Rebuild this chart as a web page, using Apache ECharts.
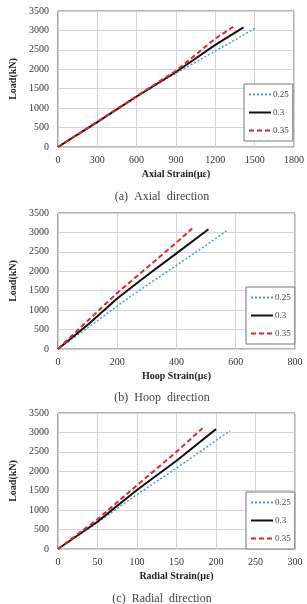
<!DOCTYPE html>
<html>
<head>
<meta charset="utf-8">
<script src="https://cdn.jsdelivr.net/npm/echarts@6/dist/echarts.min.js"></script>
<style>
  html, body { margin: 0; padding: 0; background: #fff; }
  #chart { width: 307px; height: 604px; }
</style>
</head>
<body>
<div id="chart"></div>
<script>
// 系列名称
const seriesNames = ["0.25", "0.3", "0.35"];
const captions = ["(a)  Axial  direction", "(b)  Hoop  direction", "(c)  Radial  direction"];
const xNames = ["Axial Strain(με)", "Hoop Strain(με)", "Radial Strain(με)"];
const xMax = [1800, 800, 300];
const xStep = [300, 200, 50];

// (a) 轴向应变
const axial25 = [[0, 0], [300, 640], [600, 1290], [900, 1900], [1200, 2470], [1500, 3050]];
const axial30 = [[0, 0], [300, 640], [600, 1300], [900, 1930], [1200, 2630], [1415, 3080]];
const axial35 = [[0, 0], [300, 650], [600, 1310], [900, 1960], [1200, 2790], [1340, 3100]];

// (b) 环向应变
const hoop25 = [[0, 0], [100, 540], [200, 1110], [300, 1640], [400, 2150], [500, 2670], [571, 3050]];
const hoop30 = [[0, 0], [100, 620], [200, 1300], [300, 1890], [400, 2460], [508, 3080]];
const hoop35 = [[0, 0], [100, 720], [200, 1440], [300, 2090], [400, 2740], [453, 3100]];

// (c) 径向应变
const radial25 = [[0, 0], [50, 680], [100, 1400], [150, 2080], [218, 3045]];
const radial30 = [[0, 0], [50, 700], [100, 1520], [150, 2270], [200, 3085]];
const radial35 = [[0, 0], [50, 760], [100, 1640], [150, 2500], [183, 3110]];

const panels = [
  [axial25, axial30, axial35],
  [hoop25, hoop30, hoop35],
  [radial25, radial30, radial35],
];

const font = "Liberation Serif";
const grids = [
  { left: 52, top: 11, width: 243, height: 136 },
  { left: 53, top: 213, width: 242, height: 136 },
  { left: 53, top: 413, width: 242, height: 136 },
];
const styles = [
  { color: "#4a9ad4", type: [2, 2], width: 1.5 },
  { color: "#111111", type: "solid", width: 2 },
  { color: "#e3232a", type: [5, 3], width: 2 },
];

const chart = echarts.init(document.getElementById("chart"));

const option = {
  animation: false,
  textStyle: { fontFamily: font },
  title: captions.map((t, i) => ({
    text: t,
    left: 157,
    textAlign: "center",
    top: [186, 387, 588][i],
    textStyle: { fontFamily: font, fontSize: 12, fontWeight: "normal", color: "#444" },
  })),
  grid: grids.map((g) => ({ ...g, show: true, borderColor: "#6b6b6b", borderWidth: 1 })),
  xAxis: grids.map((g, i) => ({
    type: "value",
    gridIndex: i,
    min: 0,
    max: xMax[i],
    interval: xStep[i],
    name: xNames[i],
    nameLocation: "middle",
    nameGap: 22,
    nameTextStyle: { fontFamily: font, fontSize: 10, fontWeight: "bold", color: "#222" },
    axisLine: { show: false },
    axisTick: { show: false },
    axisLabel: { fontFamily: font, fontSize: 10, color: "#333", margin: 8, formatter: (v) => String(v) },
    splitLine: { lineStyle: { color: "#d4d4d4", width: 1 } },
  })),
  yAxis: grids.map((g, i) => ({
    type: "value",
    gridIndex: i,
    min: 0,
    max: 3500,
    interval: 500,
    name: "Load(kN)",
    nameLocation: "middle",
    nameGap: 37,
    nameTextStyle: { fontFamily: font, fontSize: 10, fontWeight: "bold", color: "#222" },
    axisLine: { show: false },
    axisTick: { show: false },
    axisLabel: { fontFamily: font, fontSize: 10, color: "#333", margin: 9, formatter: (v) => String(v) },
    splitLine: { lineStyle: { color: "#d4d4d4", width: 1 } },
  })),
  legend: [84, 287, 492].map((top, i) => ({
    orient: "vertical",
    left: i === 0 ? 244 : 246,
    top: top,
    data: seriesNames,
    itemWidth: 22,
    itemHeight: 8,
    itemGap: 9,
    padding: [6, 4, 6, 4],
    borderColor: "#777",
    borderWidth: 1,
    backgroundColor: "#fff",
    selectedMode: false,
    itemStyle: { opacity: 0 },
    textStyle: { fontFamily: font, fontSize: 9, color: "#444", padding: [0, 0, 0, -3] },
  })),
  series: panels.flatMap((lines, p) =>
    lines.map((data, k) => ({
      name: seriesNames[k],
      type: "line",
      xAxisIndex: p,
      yAxisIndex: p,
      data: data,
      symbol: "none",
      lineStyle: styles[k],
      itemStyle: { color: styles[k].color },
      z: 3 + k,
    }))
  ),
};

chart.setOption(option);
</script>
</body>
</html>
